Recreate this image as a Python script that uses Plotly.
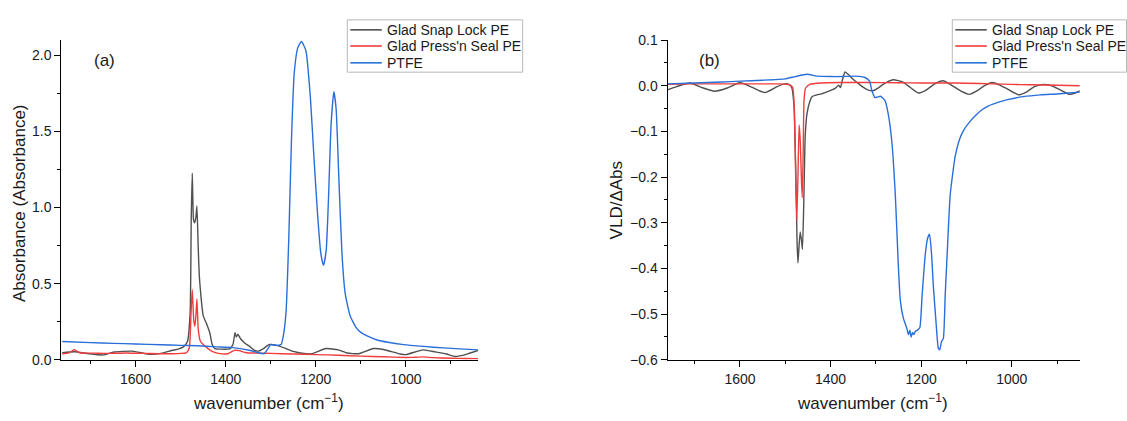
import plotly.graph_objects as go

# ---------------- data: panel (a) absorbance ----------------
wn_snap_a = [1763, 1736, 1704, 1672, 1648, 1608, 1568, 1544, 1520, 1504, 1494, 1485, 1479,
             1476.5, 1474.3, 1471.5, 1469, 1466.5, 1464, 1461, 1458.8, 1455.7, 1450, 1442.5,
             1435, 1430, 1424, 1410, 1391, 1384, 1379.4, 1376.5, 1373, 1367.5, 1358, 1347,
             1336, 1328, 1316, 1304, 1288, 1270, 1250, 1234, 1208, 1178, 1150, 1131, 1105,
             1072, 1050, 1013, 1000, 962, 935, 910, 890, 866, 840]
abs_snap = [0.046, 0.053, 0.040, 0.032, 0.051, 0.057, 0.036, 0.042, 0.061, 0.072, 0.085, 0.12, 0.31,
            0.94, 1.226, 0.92, 0.90, 0.93, 1.01, 0.73, 0.56, 0.44, 0.29, 0.236,
            0.173, 0.10, 0.074, 0.070, 0.072, 0.10, 0.178, 0.15, 0.168, 0.14, 0.11, 0.088,
            0.062, 0.057, 0.074, 0.10, 0.095, 0.078, 0.055, 0.045, 0.040, 0.074, 0.065, 0.045, 0.040,
            0.074, 0.068, 0.038, 0.034, 0.065, 0.052, 0.038, 0.022, 0.036, 0.061]

wn_press_a = [1763, 1748, 1736, 1724, 1690, 1664, 1620, 1584, 1550, 1520, 1500, 1488, 1481, 1477,
              1474.3, 1471, 1468.5, 1466, 1464, 1461, 1456, 1448, 1440, 1430, 1416, 1395, 1381,
              1370, 1355, 1330, 1300, 1250, 1200, 1150, 1100, 1050, 1000, 985, 962, 940, 900, 870, 840]
abs_press = [0.040, 0.046, 0.066, 0.046, 0.044, 0.042, 0.045, 0.042, 0.040, 0.040, 0.042, 0.046, 0.078, 0.31,
             0.46, 0.26, 0.22, 0.30, 0.40, 0.20, 0.12, 0.095, 0.075, 0.055, 0.042, 0.040, 0.062,
             0.060, 0.046, 0.044, 0.042, 0.038, 0.034, 0.030, 0.024, 0.020, 0.015, 0.016, 0.019, 0.014, 0.010, 0.009, 0.008]

wn_ptfe_a = [1763, 1700, 1650, 1600, 1544, 1500, 1464, 1420, 1385, 1345, 1329, 1315, 1307, 1300,
             1285, 1277, 1272, 1266, 1260, 1254, 1248, 1240, 1232, 1222, 1212, 1204, 1196, 1189,
             1183, 1177, 1172, 1166, 1160, 1155, 1149, 1142, 1135, 1124, 1110, 1100, 1085, 1064,
             1040, 1005, 960, 917, 880, 840]
abs_ptfe = [0.12, 0.113, 0.108, 0.104, 0.099, 0.095, 0.092, 0.085, 0.080, 0.061, 0.047, 0.040, 0.070, 0.100,
            0.095, 0.10, 0.16, 0.32, 0.80, 1.45, 1.88, 2.05, 2.09, 2.03, 1.72, 1.32, 0.95, 0.70,
            0.62, 0.72, 1.05, 1.55, 1.76, 1.65, 1.20, 0.70, 0.44, 0.29, 0.21, 0.18, 0.155, 0.13,
            0.115, 0.10, 0.088, 0.078, 0.072, 0.065]

# ---------------- data: panel (b) VLD ----------------
wn_snap_b = [1760, 1740, 1710, 1684, 1656, 1628, 1600, 1574, 1545, 1518, 1502, 1492, 1486, 1481,
             1477, 1474, 1472, 1469.5, 1467, 1464, 1462, 1459, 1456, 1452, 1446, 1441, 1430, 1420,
             1404, 1390, 1382, 1378, 1374, 1368, 1360, 1352, 1340, 1330, 1318, 1306, 1296, 1284,
             1262, 1240, 1224, 1206, 1190, 1170, 1152, 1136, 1112, 1094, 1078, 1060, 1043, 1028,
             1012, 985, 968, 950, 930, 912, 895, 872, 860, 849]
vld_snap = [-0.009, -0.002, 0.006, -0.004, -0.012, -0.005, 0.007, -0.003, -0.015, -0.002, 0.004, 0.003, -0.003, -0.04,
            -0.18, -0.34, -0.388, -0.35, -0.32, -0.34, -0.358, -0.25, -0.11, -0.061, -0.035, -0.024, -0.02, -0.018,
            -0.012, -0.006, 0.001, -0.004, 0.012, 0.03, 0.024, 0.016, 0.006, -0.002, -0.009, -0.011, -0.006, 0.003,
            0.013, 0.008, -0.004, -0.016, -0.01, 0.004, 0.011, 0.003, -0.012, -0.019, -0.012, 0.0, 0.007, 0.002,
            -0.006, -0.02, -0.014, -0.002, 0.003, 0.0, -0.008, -0.019, -0.016, -0.011]

wn_press_b = [1760, 1700, 1600, 1520, 1494, 1484, 1480, 1477, 1474.5, 1472, 1469.5, 1467, 1464.5,
              1462.6, 1460.5, 1458.5, 1455, 1446, 1420, 1380, 1320, 1250, 1200, 1150, 1100, 1040,
              1000, 960, 900, 849]
vld_press = [0.003, 0.004, 0.004, 0.004, 0.003, -0.003, -0.05, -0.2, -0.293, -0.2, -0.086, -0.12, -0.2,
             -0.245, -0.15, -0.03, -0.005, 0.003, 0.006, 0.007, 0.007, 0.0065, 0.006, 0.006, 0.0055, 0.004,
             0.003, 0.002, 0.001, 0.0]

wn_ptfe_b = [1760, 1700, 1640, 1600, 1550, 1500, 1478, 1452, 1430, 1400, 1375, 1345, 1324, 1314,
             1309, 1302, 1297, 1290, 1280, 1273, 1265, 1257, 1251, 1246, 1239, 1232, 1228, 1225,
             1222, 1219, 1216, 1213, 1208, 1203, 1198, 1191, 1186, 1181.5, 1177, 1173, 1167, 1162,
             1159, 1155, 1151, 1147, 1143, 1136, 1130, 1125, 1114, 1106, 1092, 1080, 1065, 1051,
             1025, 1007, 975, 937, 900, 875, 849]
vld_ptfe = [0.004, 0.006, 0.008, 0.010, 0.012, 0.015, 0.020, 0.025, 0.021, 0.020, 0.020, 0.021, 0.018, 0.010,
            -0.01, -0.026, -0.025, -0.023, -0.032, -0.06, -0.12, -0.24, -0.38, -0.47, -0.51, -0.53, -0.545, -0.535,
            -0.55, -0.54, -0.545, -0.538, -0.535, -0.53, -0.46, -0.37, -0.335, -0.325, -0.37, -0.44, -0.52, -0.575,
            -0.578, -0.56, -0.553, -0.46, -0.377, -0.24, -0.19, -0.155, -0.114, -0.097, -0.078, -0.065, -0.052, -0.044,
            -0.035, -0.030, -0.024, -0.020, -0.018, -0.016, -0.014]

names = ["Glad Snap Lock PE", "Glad Press'n Seal PE", "PTFE"]
colors = ["#505050", "#f23c3c", "#2a6fd9"]

FONT = "Liberation Sans, Arial, sans-serif"
TXT = "#1a1a1a"
W, H = 1127, 421

fig = go.Figure()

panel_a = [(wn_snap_a, abs_snap), (wn_press_a, abs_press), (wn_ptfe_a, abs_ptfe)]
panel_b = [(wn_snap_b, vld_snap), (wn_press_b, vld_press), (wn_ptfe_b, vld_ptfe)]

for (x, y), n, c in zip(panel_a, names, colors):
    fig.add_trace(go.Scatter(x=x, y=y, name=n, mode="lines", showlegend=False,
                             line=dict(color=c, width=1.4, shape="spline", smoothing=0.5),
                             xaxis="x", yaxis="y"))
for (x, y), n, c in zip(panel_b, names, colors):
    fig.add_trace(go.Scatter(x=x, y=y, name=n, mode="lines", showlegend=False,
                             line=dict(color=c, width=1.4, shape="spline", smoothing=0.5),
                             xaxis="x2", yaxis="y2"))

ydom = [1 - 365.7 / H, 1 - 33.3 / H]

axis_common = dict(showline=True, linecolor="black", linewidth=1, showgrid=False, zeroline=False,
                   ticks="outside", ticklen=6, tickwidth=1, tickcolor="black",
                   tickfont=dict(family=FONT, size=14, color=TXT), mirror=False)

fig.update_layout(
    width=W, height=H,
    margin=dict(l=0, r=0, t=0, b=0),
    paper_bgcolor="white", plot_bgcolor="white",
    font=dict(family=FONT, size=14, color=TXT),
    showlegend=False,
    xaxis=dict(domain=[61.3 / W, 478 / W], range=[1765, 840], dtick=200, tick0=0, anchor="y",
               minor=dict(dtick=100, tick0=0, ticks="outside", ticklen=3, tickcolor="black"),
               **axis_common),
    yaxis=dict(domain=ydom, range=[0, 2.1], dtick=0.5, tick0=0, tickformat=".1f", anchor="x",
               minor=dict(dtick=0.25, tick0=0, ticks="outside", ticklen=3, tickcolor="black"),
               **axis_common),
    xaxis2=dict(domain=[667.5 / W, 1079.7 / W], range=[1760, 850], dtick=200, tick0=0, anchor="y2",
                minor=dict(dtick=100, tick0=0, ticks="outside", ticklen=3, tickcolor="black"),
                **axis_common),
    yaxis2=dict(domain=ydom, range=[-0.6, 0.1], dtick=0.1, tick0=0, tickformat=".1f", anchor="x2",
                minor=dict(dtick=0.05, tick0=0, ticks="outside", ticklen=3, tickcolor="black"),
                **axis_common),
)

ann = [
    dict(text="(a)", x=104.3 / W, y=1 - 55 / H, font=dict(size=17)),
    dict(text="(b)", x=709 / W, y=1 - 55 / H, font=dict(size=17)),
    dict(text="Absorbance (Absorbance)", x=19.7 / W, y=1 - 203 / H, textangle=-90, font=dict(size=17)),
    dict(text="VLD/ΔAbs", x=616 / W, y=1 - 200 / H, textangle=-90, font=dict(size=17)),
    dict(text="wavenumber (cm<sup>−1</sup>)", x=268.7 / W, y=1 - 410 / H, font=dict(size=17)),
    dict(text="wavenumber (cm<sup>−1</sup>)", x=872.8 / W, y=1 - 410 / H, font=dict(size=17)),
]
for a in ann:
    a.update(xanchor="center", yanchor="middle")

# ---- legends (box, sample lines, labels) for both panels ----
shapes = []
legend_boxes = [(347.3, 522.7), (952.3, 1126.5)]
entry_y = [22.7, 39.5, 57.0]
for bx0, bx1 in legend_boxes:
    shapes.append(dict(type="rect", xref="paper", yref="paper",
                       x0=bx0 / W, x1=bx1 / W, y0=1 - 66.7 / H, y1=1 - 12.3 / H,
                       line=dict(color="#b8b8b8", width=1), fillcolor="white", layer="above"))
    for ey, n, c in zip(entry_y, names, colors):
        shapes.append(dict(type="line", xref="paper", yref="paper",
                           x0=(bx0 + 3) / W, x1=(bx0 + 34.5) / W, y0=1 - ey / H, y1=1 - ey / H,
                           line=dict(color=c, width=1.6), layer="above"))
        ann.append(dict(text=n, x=(bx0 + 38) / W, y=1 - ey / H, xanchor="left", yanchor="middle",
                        font=dict(size=14)))

for a in ann:
    a.update(xref="paper", yref="paper", showarrow=False)
    a.setdefault("font", {})
    a["font"].update(family=FONT, color=TXT)

fig.update_layout(annotations=ann, shapes=shapes)

fig.write_html("out.html",
               config={"displayModeBar": False, "staticPlot": True},
               post_script="document.body.style.margin='0';document.body.style.padding='0';")
